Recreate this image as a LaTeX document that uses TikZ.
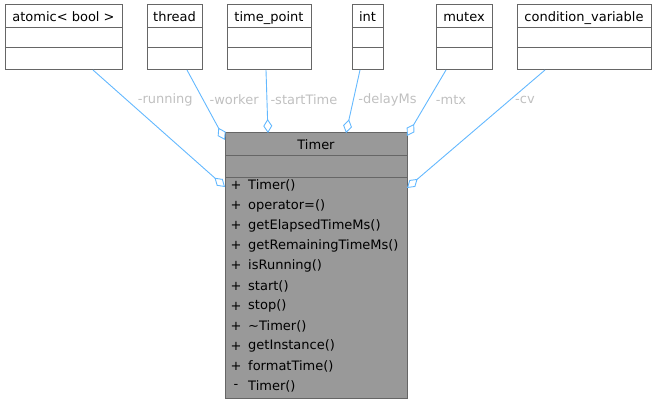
\documentclass[tikz,border=0pt]{standalone}
\usepackage{fontspec}
\setmainfont{DejaVu Sans}
\usetikzlibrary{arrows.meta,positioning}
\definecolor{edgeblue}{HTML}{63B8FF}
\definecolor{boxline}{HTML}{666666}
\definecolor{timerfill}{HTML}{999999}
\definecolor{lblgrey}{HTML}{C0C0C0}

\begin{document}
\begin{tikzpicture}[x=1pt, y=-1pt,
  font=\fontsize{13}{15}\selectfont,
  cls/.style={draw=boxline, line width=1pt, fill=white, inner sep=0pt, outer sep=0pt},
  clstitle/.style={cls, text height=12pt, text depth=1.6pt},
  timerbox/.style={cls, fill=timerfill},
  lbl/.style={text=lblgrey, inner sep=1pt},
  assoc/.style={edgeblue, line width=0.9pt, {Diamond[open, length=14pt, width=9pt]}-},
]
\useasboundingbox (0,0) rectangle (657,404);

% used classes
\foreach \n/\x/\w/\t in {atomic/5/117/{atomic< bool >}, thread/147/55/thread,
    timepoint/227/84/time\_point, int/352/31/int, mutex/436/56/mutex,
    cv/517/134/condition\_variable} {
  \node[clstitle, anchor=north west, minimum width=\w, minimum height=23] (\n-t) at (\x,5) {\t};
  \node[cls, anchor=north, minimum width=\w, minimum height=20] (\n-a) at (\n-t.south) {};
  \node[cls, anchor=north, minimum width=\w, minimum height=22] (\n-m) at (\n-a.south) {};
}

% Timer
\node[clstitle, fill=timerfill, anchor=north west, minimum width=182, minimum height=23] (timer-t) at (225,133) {Timer};
\node[timerbox, anchor=north, minimum width=182, minimum height=21] (timer-a) at (timer-t.south) {};
\node[timerbox, anchor=north, minimum width=182, minimum height=221] (timer-m) at (timer-a.south) {};
\foreach \v/\m [count=\i from 0] in {+/Timer(), +/operator=(), +/getElapsedTimeMs(),
    +/getRemainingTimeMs(), +/isRunning(), +/start(), +/stop(), +/\textasciitilde Timer(),
    +/getInstance(), +/formatTime(), -/Timer()} {
  \node[inner sep=0pt] (vis\i) at (236,{185.5+20.1*\i}) {\v};
  \node[anchor=west, inner sep=0pt] (meth\i) at (248,{185.5+20.1*\i}) {\m};
}

% members
\draw[assoc] ([yshift=-10]timer-m.north west) -- node[lbl, pos=0.748, xshift=39] {-running} ([xshift=29.5]atomic-m.south);
\draw[assoc] ([yshift=-7]timer-t.north west) -- node[lbl, pos=0.577, xshift=31] {-worker} ([xshift=12.5]thread-m.south);
\draw[assoc] ([xshift=-48]timer-t.north) -- node[lbl, pos=0.53, xshift=37] {-startTime} ([xshift=-3]timepoint-m.south);
\draw[assoc] ([xshift=30]timer-t.north) -- node[lbl, pos=0.53, xshift=34] {-delayMs} ([xshift=-7.5]int-m.south);
\draw[assoc] ([yshift=-3]timer-t.north east) -- node[lbl, pos=0.551, xshift=22.5] {-mtx} ([xshift=-18]mutex-m.south);
\draw[assoc] ([yshift=-11]timer-m.north east) -- node[lbl, pos=0.75, xshift=14.5] {-cv} ([xshift=-39]cv-m.south);
\end{tikzpicture}
\end{document}
